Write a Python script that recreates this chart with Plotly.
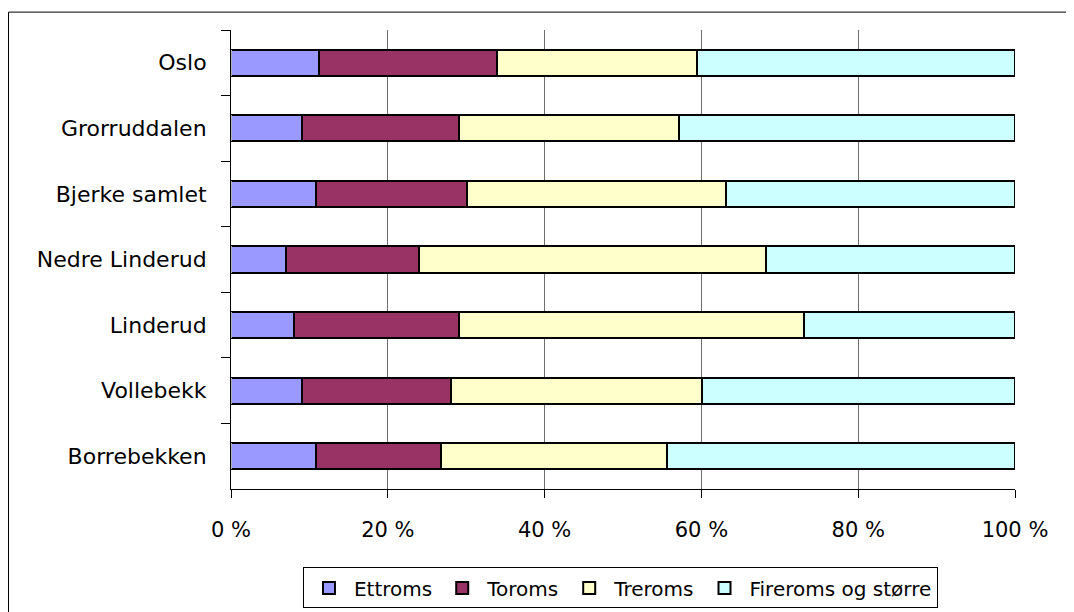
import plotly.graph_objects as go

categories = ["Oslo", "Grorruddalen", "Bjerke samlet", "Nedre Linderud",
              "Linderud", "Vollebekk", "Borrebekken"]
series_names = ["Ettroms", "Toroms", "Treroms", "Fireroms og større"]
ettroms = [11.2, 9.0, 10.9, 7.0, 8.0, 9.0, 10.9]
toroms = [22.7, 20.1, 19.2, 17.0, 21.1, 19.1, 15.9]
treroms = [25.6, 28.0, 33.0, 44.2, 44.0, 32.0, 28.8]
fireroms = [40.5, 42.9, 36.9, 31.8, 26.9, 39.9, 44.4]
x_tick_vals = [0, 20, 40, 60, 80, 100]
x_tick_text = ["0 %", "20 %", "40 %", "60 %", "80 %", "100 %"]
grid_vals = [20, 40, 60, 80]

colors = ["#9999FF", "#993366", "#FFFFCC", "#CCFFFF"]
FONT = "DejaVu Sans"

fig = go.Figure()
for name, vals, col in zip(series_names, [ettroms, toroms, treroms, fireroms], colors):
    fig.add_trace(go.Bar(
        y=categories, x=vals, name=name, orientation="h",
        marker=dict(color=col, line=dict(color="black", width=2)),
    ))

# invisible trace on overlay axis to carry the inner gridlines
fig.add_trace(go.Bar(y=categories, x=[0] * len(categories), orientation="h",
                     xaxis="x2", showlegend=False, hoverinfo="skip",
                     marker=dict(color="rgba(0,0,0,0)")))

fig.update_layout(
    width=1074, height=612,
    margin=dict(l=223, r=67, t=22, b=120),
    barmode="stack", bargap=0.6,
    plot_bgcolor="white", paper_bgcolor="white",
    font=dict(family=FONT, color="black", size=21),
    xaxis=dict(range=[0, 100], tickvals=x_tick_vals, ticktext=x_tick_text,
               showgrid=False, zeroline=False, showline=True, linecolor="black",
               linewidth=1, ticks="outside", ticklen=8, tickcolor="black",
               tickfont=dict(family=FONT, size=21), ticklabelstandoff=14),
    xaxis2=dict(range=[0, 100], overlaying="x", tickvals=grid_vals,
                showgrid=True, gridcolor="#6e6e6e", gridwidth=1,
                showticklabels=False, ticks="", zeroline=False, showline=False),
    yaxis=dict(autorange="reversed", showgrid=False, showline=True,
               linecolor="black", linewidth=1, ticks="outside", ticklen=9,
               tickcolor="black", tickson="boundaries",
               tickfont=dict(family=FONT, size=22), ticklabelstandoff=19),
    legend=dict(orientation="h", x=0.0918, y=-0.171, xanchor="left", yanchor="top",
                bordercolor="black", borderwidth=1, bgcolor="white",
                font=dict(family=FONT, size=20), traceorder="normal",
                itemwidth=40),
    showlegend=True,
)

# outer chart frame (top and left edges visible in the reference)
fig.add_shape(type="line", xref="paper", yref="paper",
              x0=(8.5 - 231) / 784, x1=(1090 - 231) / 784,
              y0=(492 - 12) / 462, y1=(492 - 12) / 462,
              line=dict(color="black", width=1))
fig.add_shape(type="line", xref="paper", yref="paper",
              x0=(8.5 - 231) / 784, x1=(8.5 - 231) / 784,
              y0=(492 - 12) / 462, y1=(492 - 630) / 462,
              line=dict(color="black", width=1))

fig.write_html("out.html")
